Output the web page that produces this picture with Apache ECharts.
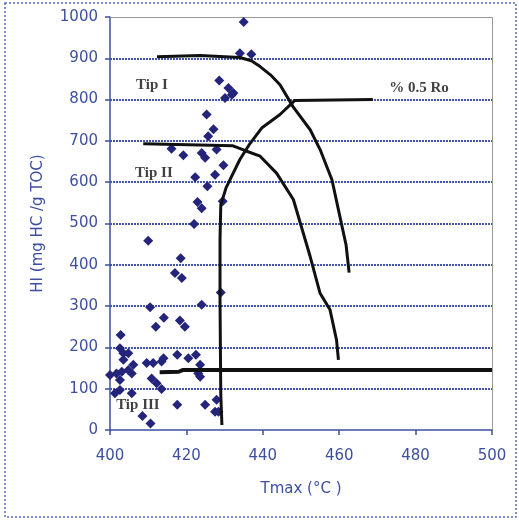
<!DOCTYPE html>
<html>
<head>
<meta charset="utf-8">
<script src="https://cdn.jsdelivr.net/npm/echarts@6/dist/echarts.min.js"></script>
<style>
html,body{margin:0;padding:0;background:#fff;}
#c{width:519px;height:521px;}
</style>
</head>
<body>
<div id="c"></div>
<script>
// Scatter samples: Tmax (°C) and HI (mg HC/g TOC)
const sampleTmax = [435,434,437,428.6,431,431.9,430.1,432.3,425.3,427.1,425.7,416.1,419.2,424,424.9,427.9,429.7,427.5,422.3,425.5,429.5,422.9,424,422,410,418.5,417,418.8,429,424,410.5,414.1,412,418.3,419.6,402.8,402.6,403.5,404.8,403.5,406.1,404.8,403.1,401.7,400,405.7,402.6,401.3,402.6,405.7,408.5,410.6,409.6,411.3,413.5,414,410.9,412.2,413.5,417.6,420.5,422.5,423.6,423.1,423.6,417.6,424.9,427.9,427.5,428.4];
const sampleHI   = [988,912,910,846,828,812,804,816,764,728,711,681,665,671,659,679,641,618,612,590,554,552,537,499,458,416,380,368,333,303,297,272,250,265,250,230,198,186,186,170,158,145,141,137,133,137,121,89,97,89,34,16,162,162,166,174,125,113,99,182,174,182,158,137,129,61,61,73,44,44];

// Kerogen type boundary curves
const tipICurveT  = [412.3,423.6,434.0,437.0,439.3,442.0,444.5,447.9,452.4,455.0,458.1,460.2,461.8,462.6];
const tipICurveHI = [904,907,902,894,880,860,836,783,727,679,606,516,448,381];
const tipIICurveT  = [408.7,432.2,435.8,439.3,443.6,448.0,452.4,455.0,457.6,459.3,459.8];
const tipIICurveHI = [693,688,675,663,622,558,420,331,291,218,170];
const tipIIILineT  = [413,418,419,500];
const tipIIILineHI = [140,141,145,145];
const roLineT  = [429.3,429.0,428.8,428.8,429.0,430.4,434.0,436.6,439.8,444.5,448.4,468.8];
const roLineHI = [12,85,315,461,545,587,655,693,732,764,798,800];

// Annotations
const labelText = ['Tip I','Tip II','Tip III','% 0.5 Ro'];
const labelT    = [411.0,411.5,407.3,480.9];
const labelHI   = [834,623,61,827];

// Axes
const xMin = 400, xMax = 500, xStep = 20;
const yMin = 0, yMax = 1000, yStep = 100;
const yGridValues = [100,200,300,400,500,600,700,800,900];

const zip = (a,b) => a.map((v,i)=>[v,b[i]]);
const blue = '#3d4f9f';
const lineStyle = {color:'#111', width:3};

const chart = echarts.init(document.getElementById('c'), null, {renderer:'canvas'});
chart.setOption({
  backgroundColor:'#fff',
  animation:false,
  graphic:[{
    type:'rect', shape:{x:5,y:3,width:511,height:514},
    style:{fill:'none', stroke:'#5a6ab8', lineWidth:1.5, lineDash:[2,2]}, silent:true, z:-1
  }],
  grid:{left:110,right:27,top:17,bottom:91,show:false},
  xAxis:{
    type:'value', min:xMin, max:xMax, interval:xStep,
    name:'Tmax (°C )', nameLocation:'middle', nameGap:52,
    nameTextStyle:{color:blue,fontFamily:'DejaVu Sans',fontSize:15},
    axisLine:{lineStyle:{color:blue,width:1.5}},
    axisTick:{inside:false,length:5,lineStyle:{color:blue,width:1.5}},
    axisLabel:{color:blue,fontFamily:'DejaVu Sans',fontSize:15,margin:19,formatter:v=>String(v)},
    splitLine:{show:false}
  },
  yAxis:{
    type:'value', min:yMin, max:yMax, interval:yStep,
    name:'HI (mg HC /g TOC)', nameLocation:'middle', nameGap:64,
    nameTextStyle:{color:blue,fontFamily:'DejaVu Sans',fontSize:15},
    axisLine:{show:true,lineStyle:{color:blue,width:1.5}},
    axisTick:{show:true,length:5,lineStyle:{color:blue,width:1.5}},
    axisLabel:{color:blue,fontFamily:'DejaVu Sans',fontSize:15,margin:12,formatter:v=>String(v)},
    splitLine:{show:false}
  },
  series:[
    {type:'scatter', data:zip(sampleTmax,sampleHI), symbol:'diamond', symbolSize:10,
     itemStyle:{color:'#24257a',opacity:1}, z:3,
     markLine:{silent:true, symbol:'none', label:{show:false}, animation:false, z:1,
       data:[
         ...yGridValues.map(v=>({yAxis:v, lineStyle:{color:'#4354ad',width:2,type:[2,1]}})),
         {yAxis:yMax, lineStyle:{color:'#999',width:1,type:'solid'}},
         {xAxis:xMax, lineStyle:{color:'#999',width:1,type:'solid'}}
       ]}},
    {type:'line', data:zip(tipICurveT,tipICurveHI), showSymbol:false, symbol:'none', smooth:false, lineStyle, z:4},
    {type:'line', data:zip(tipIICurveT,tipIICurveHI), showSymbol:false, symbol:'none', smooth:false, lineStyle, z:4},
    {type:'line', data:zip(tipIIILineT,tipIIILineHI), showSymbol:false, symbol:'none', lineStyle:{color:'#111',width:4}, z:4},
    {type:'line', data:zip(roLineT,roLineHI), showSymbol:false, symbol:'none', smooth:false, lineStyle, z:4},
    {type:'scatter', data:labelText.map((t,i)=>({value:[labelT[i],labelHI[i]],name:t})),
     symbolSize:0, silent:true, z:5,
     label:{show:true, position:'inside', formatter:p=>p.name,
            fontFamily:'Liberation Serif', fontWeight:'bold', fontSize:15, color:'#111'}}
  ]
});
</script>
</body>
</html>
